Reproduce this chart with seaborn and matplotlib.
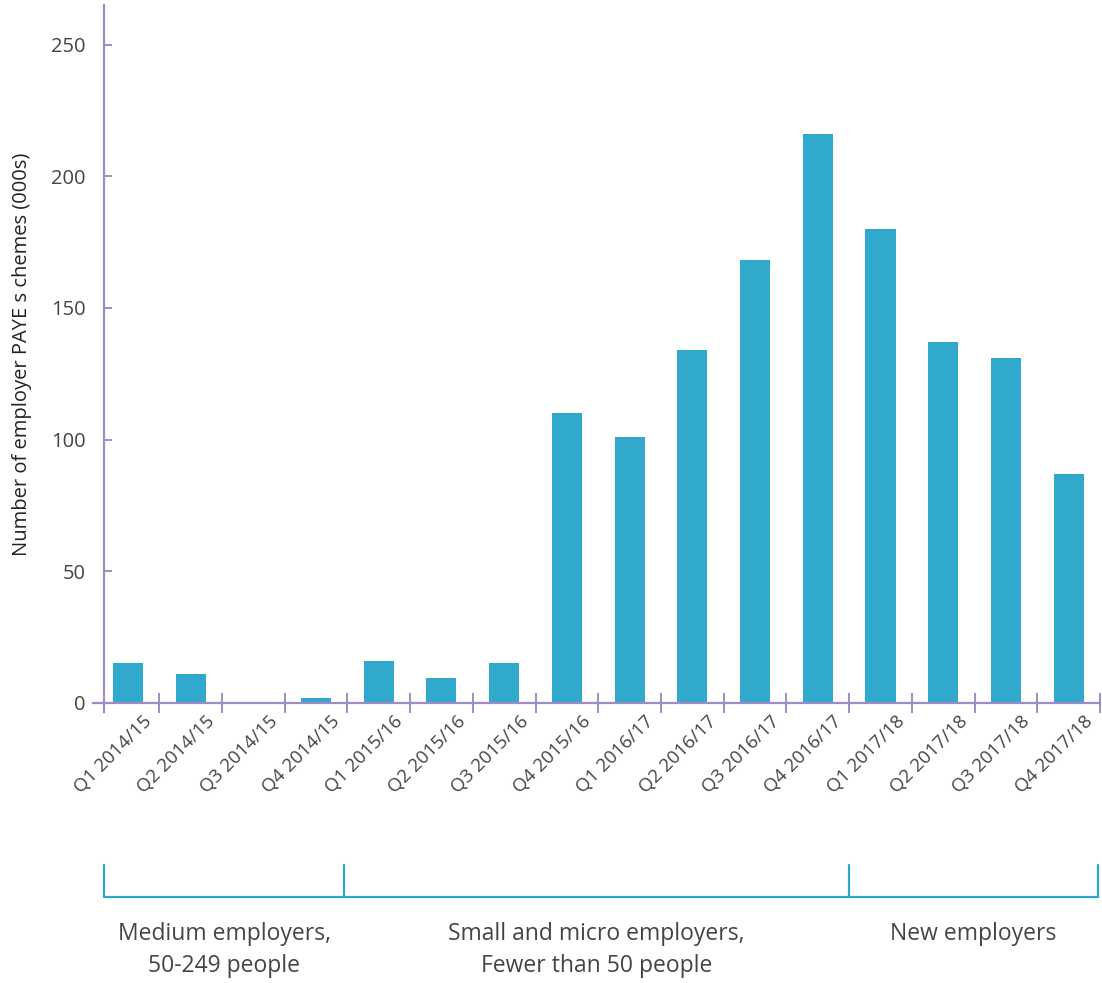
import matplotlib
matplotlib.use("Agg")
import matplotlib.pyplot as plt
import matplotlib.transforms as mtransforms
import seaborn as sns
import pandas as pd

quarters = ["Q1 2014/15", "Q2 2014/15", "Q3 2014/15", "Q4 2014/15",
            "Q1 2015/16", "Q2 2015/16", "Q3 2015/16", "Q4 2015/16",
            "Q1 2016/17", "Q2 2016/17", "Q3 2016/17", "Q4 2016/17",
            "Q1 2017/18", "Q2 2017/18", "Q3 2017/18", "Q4 2017/18"]
schemes = [15, 11, 0, 2, 16, 9.5, 15, 110, 101, 134, 168, 216, 180, 137, 131, 87]
y_ticks = [0, 50, 100, 150, 200, 250]
groups = ["Medium employers,\n50-249 people",
          "Small and micro employers,\nFewer than 50 people",
          "New employers"]
group_bounds = [(-0.38, 3.45), (3.45, 11.5), (11.5, 15.47)]

sns.set_theme(style="white")
plt.rcParams['font.family'] = ['Open Sans', 'DejaVu Sans']

axis_col = "#9d8cc6"
bar_col = "#31a9cc"
text_col = "#444444"
bracket_col = "#2ea6cc"

df = pd.DataFrame({"quarter": quarters, "schemes": schemes})

fig = plt.figure(figsize=(11.02, 9.83), dpi=100)
ax = fig.add_axes([104/1102, 1 - 703/983, 996/1102, 698/983])
sns.barplot(data=df, x="quarter", y="schemes", color=bar_col, width=0.48,
            saturation=1, ax=ax, edgecolor="none")

ax.set_xlim(-0.38, 15.5)
ax.set_ylim(0, 265)
for s in ["top", "right"]:
    ax.spines[s].set_visible(False)
ax.spines["left"].set_bounds(-3.5, 265)
ax.spines["bottom"].set_bounds(-0.55, 15.5)
for s in ["left", "bottom"]:
    ax.spines[s].set_color(axis_col)
    ax.spines[s].set_linewidth(1.6)

ax.set_yticks(y_ticks)
ax.set_yticklabels([str(v) for v in y_ticks], fontsize=14.5, color=text_col)
ax.tick_params(axis="y", left=True, direction="in", length=6, width=1.4,
               color=axis_col, pad=13)

ax.set_xticks(range(len(quarters)))
ax.set_xticklabels(quarters, rotation=45, ha="right", rotation_mode="anchor",
                   fontsize=13.5, color=text_col)
ax.tick_params(axis="x", which="major", bottom=False, length=0, pad=7)
offset = mtransforms.ScaledTranslation(15/100, 0, fig.dpi_scale_trans)
for lab in ax.get_xticklabels():
    lab.set_transform(lab.get_transform() + offset)
ax.set_xticks([i + 0.5 for i in range(len(quarters))], minor=True)
ax.tick_params(axis="x", which="minor", bottom=True, direction="inout", length=15,
               width=1.4, color=axis_col)

ax.set_xlabel("")
ax.set_ylabel("Number of employer PAYE s chemes (000s)", fontsize=14.5, color="#222222")
ax.yaxis.set_label_coords(-0.072, 0.5)

# group brackets below the axis
trans = mtransforms.blended_transform_factory(ax.transData, fig.transFigure)
y_line = 1 - 897/983
y_top = 1 - 865/983
edges = sorted(set([b for pair in group_bounds for b in pair]))
ax.plot([group_bounds[0][0], group_bounds[-1][1]], [y_line, y_line], transform=trans,
        color=bracket_col, lw=1.6, clip_on=False)
for e in edges:
    ax.plot([e, e], [y_line, y_top], transform=trans, color=bracket_col, lw=1.6,
            clip_on=False)
for (a, b), g in zip(group_bounds, groups):
    ax.text((a + b) / 2, 1 - 922/983, g, transform=trans, ha="center", va="top",
            fontsize=16.5, color=text_col, linespacing=1.45)

fig.savefig("out.png", dpi=100)
